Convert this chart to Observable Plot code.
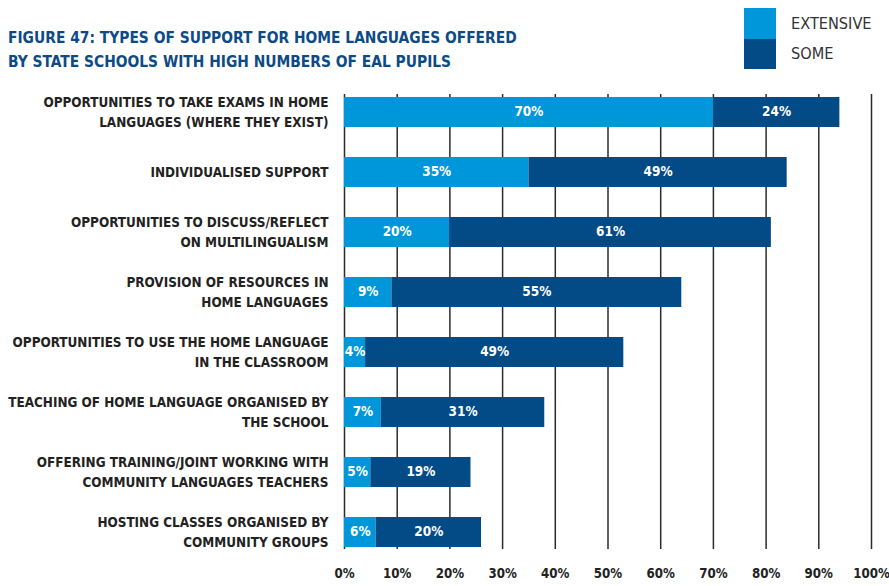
<!DOCTYPE html>
<html>
<head>
<meta charset="utf-8">
<script src="https://cdn.jsdelivr.net/npm/d3@7"></script>
<script src="https://cdn.jsdelivr.net/npm/@observablehq/plot@0.6"></script>
<style>
  html, body { margin: 0; padding: 0; background: #fff; }
  #wrap { position: relative; width: 889px; height: 586px; overflow: hidden;
          font-family: "Liberation Sans Narrow", "DejaVu Sans Condensed", "Liberation Sans", sans-serif; }
  #title { position: absolute; left: 8px; top: 26px; color: #0D4A86; font-weight: bold;
           font-size: 15.4px; line-height: 24px; white-space: nowrap; }
  .sw { position: absolute; left: 744px; width: 32px; }
  .lt { position: absolute; left: 791px; font-size: 16.2px; color: #333; line-height: 20px; }
  #chart { position: absolute; left: 0; top: 79px; }
</style>
</head>
<body>
<div id="wrap">
  <div id="title">FIGURE 47: TYPES OF SUPPORT FOR HOME LANGUAGES OFFERED<br>BY STATE SCHOOLS WITH HIGH NUMBERS OF EAL PUPILS</div>
  <div id="legend"></div>
  <div id="chart"></div>
</div>
<script>
const categories = [
  "OPPORTUNITIES TO TAKE EXAMS IN HOME\nLANGUAGES (WHERE THEY EXIST)",
  "INDIVIDUALISED SUPPORT",
  "OPPORTUNITIES TO DISCUSS/REFLECT\nON MULTILINGUALISM",
  "PROVISION OF RESOURCES IN\nHOME LANGUAGES",
  "OPPORTUNITIES TO USE THE HOME LANGUAGE\nIN THE CLASSROOM",
  "TEACHING OF HOME LANGUAGE ORGANISED BY\nTHE SCHOOL",
  "OFFERING TRAINING/JOINT WORKING WITH\nCOMMUNITY LANGUAGES TEACHERS",
  "HOSTING CLASSES ORGANISED BY\nCOMMUNITY GROUPS"
];
const extensive = [70, 35, 20, 9, 4, 7, 5, 6];
const some = [24, 49, 61, 55, 49, 31, 19, 20];
const seriesNames = ["EXTENSIVE", "SOME"];
const seriesColors = ["#0097DA", "#034B87"];
const tickValues = [0, 10, 20, 30, 40, 50, 60, 70, 80, 90, 100];

const seriesValues = [extensive, some];
const data = seriesNames.flatMap((s, si) =>
  categories.map((c, i) => ({category: c, series: s, value: seriesValues[si][i]})));

// legend
const legend = document.getElementById("legend");
seriesNames.forEach((s, i) => {
  const sw = document.createElement("div");
  sw.className = "sw";
  sw.style.top = (8 + i * 30.5) + "px";
  sw.style.height = "30.5px";
  sw.style.background = seriesColors[i];
  legend.appendChild(sw);
  const t = document.createElement("div");
  t.className = "lt";
  t.style.top = (14 + i * 30) + "px";
  t.textContent = s;
  legend.appendChild(t);
});

const chart = Plot.plot({
  width: 889,
  height: 507,
  marginLeft: 344,
  marginRight: 18,
  marginTop: 15,
  marginBottom: 37,
  style: {fontFamily: '"Liberation Sans Narrow", "DejaVu Sans Condensed", "Liberation Sans", sans-serif', color: "#222", background: "transparent", overflow: "visible"},
  x: {domain: [0, 100], label: null},
  y: {domain: categories, paddingInner: 0.5, paddingOuter: 0, label: null},
  color: {domain: seriesNames, range: seriesColors},
  marks: [
    Plot.gridX({ticks: tickValues, stroke: "#2b2b2b", strokeOpacity: 1, strokeWidth: 1.5}),
    Plot.barX(data, {x: "value", y: "category", fill: "series"}),
    Plot.textX(data, Plot.stackX({x: "value", y: "category", z: "series",
      text: d => d.value + "%", fill: "white", fontWeight: "bold", fontSize: 13.5, dy: -1})),
    Plot.axisX({ticks: tickValues, tickFormat: d => d + "%", tickSize: 0, tickPadding: 19,
      fontSize: 13.2, fontWeight: "bold", label: null}),
    Plot.axisY({tickSize: 0, tickPadding: 16, fontSize: 13.4, fontWeight: "bold", lineHeight: 1.49, dy: -2, label: null})
  ]
});
document.getElementById("chart").appendChild(chart);
</script>
</body>
</html>
